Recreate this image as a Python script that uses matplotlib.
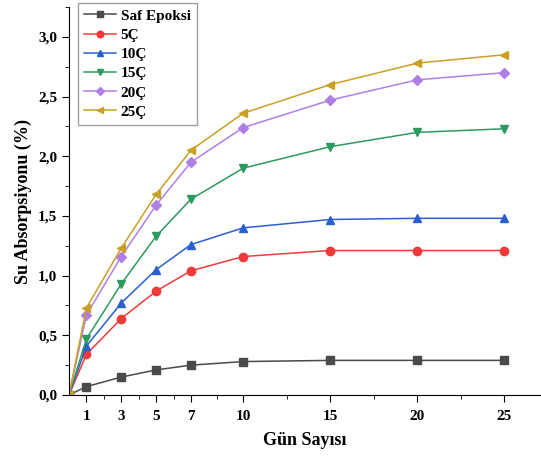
import matplotlib.pyplot as plt
from matplotlib.ticker import MultipleLocator, FixedLocator

plt.rcParams['font.family'] = ['Liberation Serif', 'DejaVu Serif']
plt.rcParams['font.weight'] = 'bold'

days = [0, 1, 3, 5, 7, 10, 15, 20, 25]
saf = [0, 0.07, 0.15, 0.21, 0.25, 0.28, 0.29, 0.29, 0.29]
c5 = [0, 0.34, 0.64, 0.87, 1.04, 1.16, 1.21, 1.21, 1.21]
c10 = [0, 0.41, 0.77, 1.05, 1.26, 1.40, 1.47, 1.48, 1.48]
c15 = [0, 0.47, 0.93, 1.33, 1.64, 1.90, 2.08, 2.20, 2.23]
c20 = [0, 0.67, 1.16, 1.59, 1.95, 2.24, 2.47, 2.64, 2.70]
c25 = [0, 0.73, 1.23, 1.68, 2.05, 2.36, 2.60, 2.78, 2.85]

series = [
    ("Saf Epoksi", saf, "#4a4a4a", "s"),
    ("5Ç", c5, "#f03a3a", "o"),
    ("10Ç", c10, "#2a5fcf", "^"),
    ("15Ç", c15, "#2c9a5c", "v"),
    ("20Ç", c20, "#b07fe6", "D"),
    ("25Ç", c25, "#c9a024", "<"),
]

fig = plt.figure(figsize=(5.41, 4.57), dpi=100)
# axes: x from px 69 to 541, y from px 395 (bottom) to 7 (top)
ax = fig.add_axes([69 / 541, 1 - 395 / 457, 472 / 541, 388 / 457])

for name, vals, col, mk in series:
    ms = 5 if mk == "D" else 6
    ax.plot(days, vals, color=col, marker=mk, markersize=ms, linewidth=1.1,
            label=name)

ax.set_xlim(0, 27.1)
ax.set_ylim(0, 3.25)
ax.set_xticks([1, 3, 5, 7, 10, 15, 20, 25])
ax.xaxis.set_minor_locator(FixedLocator([2, 4, 6, 8.5, 12.5, 17.5, 22.5]))
ax.yaxis.set_major_locator(FixedLocator([0, 0.5, 1.0, 1.5, 2.0, 2.5, 3.0]))
ax.yaxis.set_minor_locator(MultipleLocator(0.25))
ax.set_yticklabels([f"{v:.1f}".replace(".", ",") for v in ax.get_yticks()])

ax.spines['top'].set_visible(False)
ax.spines['right'].set_visible(False)
ax.tick_params(which='major', direction='out', length=5, labelsize=11)
ax.tick_params(axis='x', which='major', pad=6)
ax.tick_params(which='minor', direction='out', length=3)

ax.set_xlabel("Gün Sayısı", fontsize=13, fontweight='bold', labelpad=6)
ax.set_ylabel("Su Absorpsiyonu (%)", fontsize=13, fontweight='bold')

ax.legend(loc='upper left', bbox_to_anchor=(78 / 541, 1 - 3 / 457),
          bbox_transform=fig.transFigure, borderaxespad=0, fontsize=11,
          fancybox=False, edgecolor='#888888', handlelength=2.1,
          handletextpad=0.3, labelspacing=0.36, borderpad=0.4,
          markerscale=0.8)

fig.savefig("out.png", dpi=100)
